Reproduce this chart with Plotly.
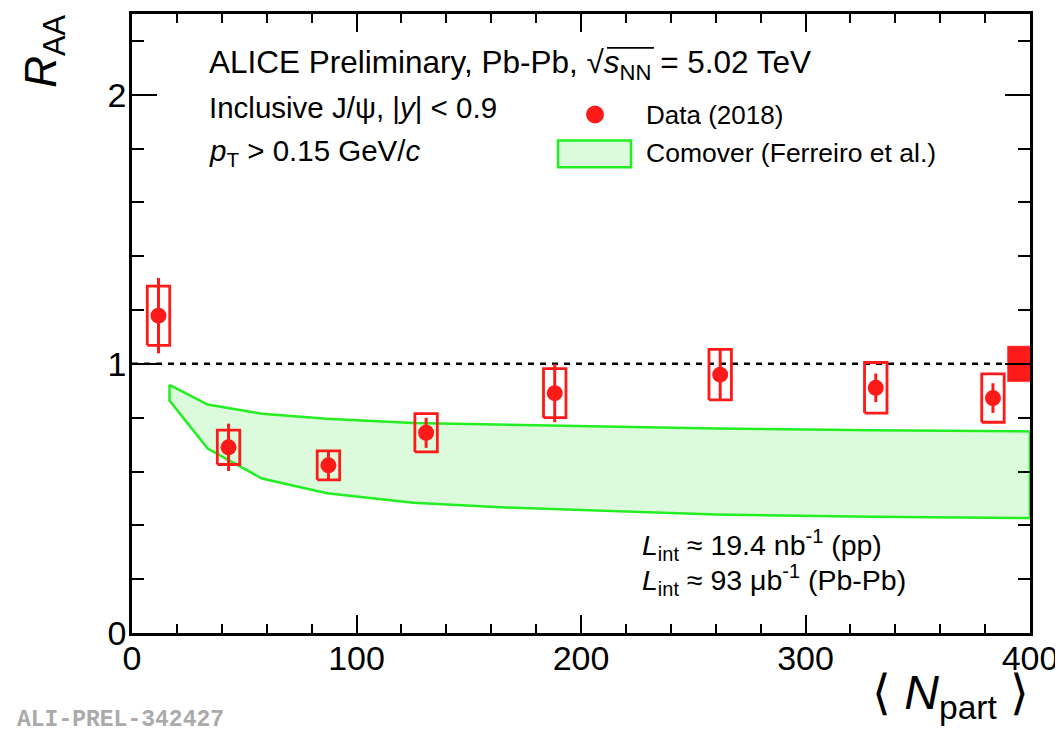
import plotly.graph_objects as go

# ---------------- data ----------------
npart = [11.8, 43.0, 87.5, 131.0, 188.3, 262.0, 331.3, 383.5]
raa = [1.179, 0.690, 0.623, 0.744, 0.891, 0.960, 0.911, 0.873]
stat_err = [0.14, 0.088, 0.051, 0.056, 0.108, 0.098, 0.053, 0.055]
sys_err = [0.11, 0.064, 0.054, 0.071, 0.091, 0.094, 0.094, 0.090]

global_unc = 0.066          # correlated uncertainty box at R_AA = 1
global_x = [390.0, 400.0]

comover_x = [16.7, 33.7, 57.9, 86.8, 125.3, 164.0, 260.0, 330.0, 400.0]
comover_hi = [0.922, 0.849, 0.815, 0.796, 0.780, 0.774, 0.760, 0.753, 0.749]
comover_lo = [0.864, 0.685, 0.574, 0.519, 0.484, 0.467, 0.440, 0.432, 0.427]

x_ticks = [0, 100, 200, 300, 400]
y_ticks = [0, 1, 2]

# ---------------- style ----------------
OFF = 8                      # page body margin
W, H = 1063 - OFF, 734 - OFF
ML, MR, MT, MB = 132 - OFF, 33, 11 - OFF, 101
PW, PH = W - ML - MR, H - MT - MB
FONT = "Liberation Sans, Arial, sans-serif"
RED = "#ff1a1a"
GREEN = "#22ee22"
BOX_HALF = 5.0


def px(xp):
    return (xp - OFF - ML) / PW


def py(yp):
    return (H + OFF - MB - yp) / PH


fig = go.Figure()

# Comover band
fig.add_trace(go.Scatter(
    x=comover_x + comover_x[::-1] + [comover_x[0]],
    y=comover_hi + comover_lo[::-1] + [comover_hi[0]],
    mode="lines", fill="toself", fillcolor="#dcfbdc",
    line=dict(color=GREEN, width=2.5), hoverinfo="skip", showlegend=False))

# unity line
fig.add_trace(go.Scatter(x=[0, 400], y=[1, 1], mode="lines",
                         line=dict(color="black", width=2.5, dash="6px,6px"),
                         showlegend=False, hoverinfo="skip"))

# global uncertainty
fig.add_trace(go.Scatter(
    x=[global_x[0], global_x[1], global_x[1], global_x[0], global_x[0]],
    y=[1 - global_unc, 1 - global_unc, 1 + global_unc, 1 + global_unc, 1 - global_unc],
    mode="lines", fill="toself", fillcolor=RED, line=dict(color=RED, width=0.5),
    showlegend=False, hoverinfo="skip"))

# systematic boxes
bx, by = [], []
for n, r, s in zip(npart, raa, sys_err):
    bx += [n - BOX_HALF, n + BOX_HALF, n + BOX_HALF, n - BOX_HALF, n - BOX_HALF, None]
    by += [r - s, r - s, r + s, r + s, r - s, None]
fig.add_trace(go.Scatter(x=bx, y=by, mode="lines", line=dict(color=RED, width=2.8),
                         showlegend=False, hoverinfo="skip"))

# data points
fig.add_trace(go.Scatter(
    x=npart, y=raa, mode="markers",
    marker=dict(color=RED, size=16, line=dict(width=0)),
    error_y=dict(type="data", array=stat_err, visible=True, color=RED,
                 thickness=3, width=0),
    showlegend=False))

axis_common = dict(showgrid=False, zeroline=False, showline=True, linecolor="black",
                   linewidth=2.5, mirror="ticks", ticks="inside", tickcolor="black",
                   tickwidth=2, tickfont=dict(family=FONT, size=34, color="black"))

fig.update_xaxes(range=[0, 400], tickvals=x_ticks, ticktext=[str(v) for v in x_ticks],
                 ticklen=18, ticklabelstandoff=-7,
                 minor=dict(dtick=20, ticklen=9, tickwidth=2, ticks="inside",
                            tickcolor="black", showgrid=False),
                 **axis_common)
fig.update_yaxes(range=[0, 2.3], tickvals=y_ticks, ticktext=[str(v) for v in y_ticks],
                 ticklen=25, ticklabelstandoff=-4,
                 minor=dict(dtick=0.2, ticklen=12, tickwidth=2, ticks="inside",
                            tickcolor="black", showgrid=False),
                 **axis_common)

ann = []


def text(x, y, s, size, xanchor="left", yanchor="middle", **kw):
    ann.append(dict(x=x, y=y, xref="paper", yref="paper", text=s, showarrow=False,
                    xanchor=xanchor, yanchor=yanchor,
                    font=dict(family=kw.pop("family", FONT), size=size,
                              color=kw.pop("color", "black")), **kw))


text(px(207), py(62),
     "ALICE Preliminary, Pb-Pb, √<i>s</i><sub>NN</sub> = 5.02 TeV", 31.5)
text(px(207), py(105), "Inclusive J/ψ, |<i>y</i>| < 0.9", 29.5)
text(px(207), py(150), "<i>p</i><sub>T</sub> > 0.15 GeV/<i>c</i>", 29.5)

text(px(644), py(112), "Data (2018)", 26)
text(px(644), py(151), "Comover (Ferreiro et al.)", 26.5)

text(px(640), py(545), "<i>L</i><sub>int</sub> ≈ 19.4 nb<sup>-1</sup> (pp)", 28.5)
text(px(640), py(580), "<i>L</i><sub>int</sub> ≈ 93 μb<sup>-1</sup> (Pb-Pb)", 28.5)

text(px(44), py(49), "<i>R</i><sub>AA</sub>", 44, xanchor="center", textangle=-90)
text(px(1031), py(696), "⟨ <i>N</i><sub>part</sub> ⟩", 48, xanchor="right")

text(px(15), py(720), "<b>ALI-PREL-342427</b>", 23, family="Liberation Mono, monospace",
     color="#aaaaaa")

shapes = [
    dict(type="circle", xref="paper", yref="paper", x0=px(586), x1=px(604),
         y0=py(121), y1=py(103), fillcolor=RED, line=dict(width=0)),
    dict(type="rect", xref="paper", yref="paper", x0=px(558), x1=px(631),
         y0=py(165), y1=py(138), fillcolor="#dcfbdc", line=dict(color=GREEN, width=2.5)),
    # overline of the square-root sign
    dict(type="line", xref="paper", yref="paper", x0=px(607), x1=px(654),
         y0=py(45), y1=py(45), line=dict(color="black", width=1.8)),
]

fig.update_layout(width=W, height=H, margin=dict(l=ML, r=MR, t=MT, b=MB),
                  plot_bgcolor="white", paper_bgcolor="white", showlegend=False,
                  annotations=ann, shapes=shapes)

fig.write_html("out.html")
